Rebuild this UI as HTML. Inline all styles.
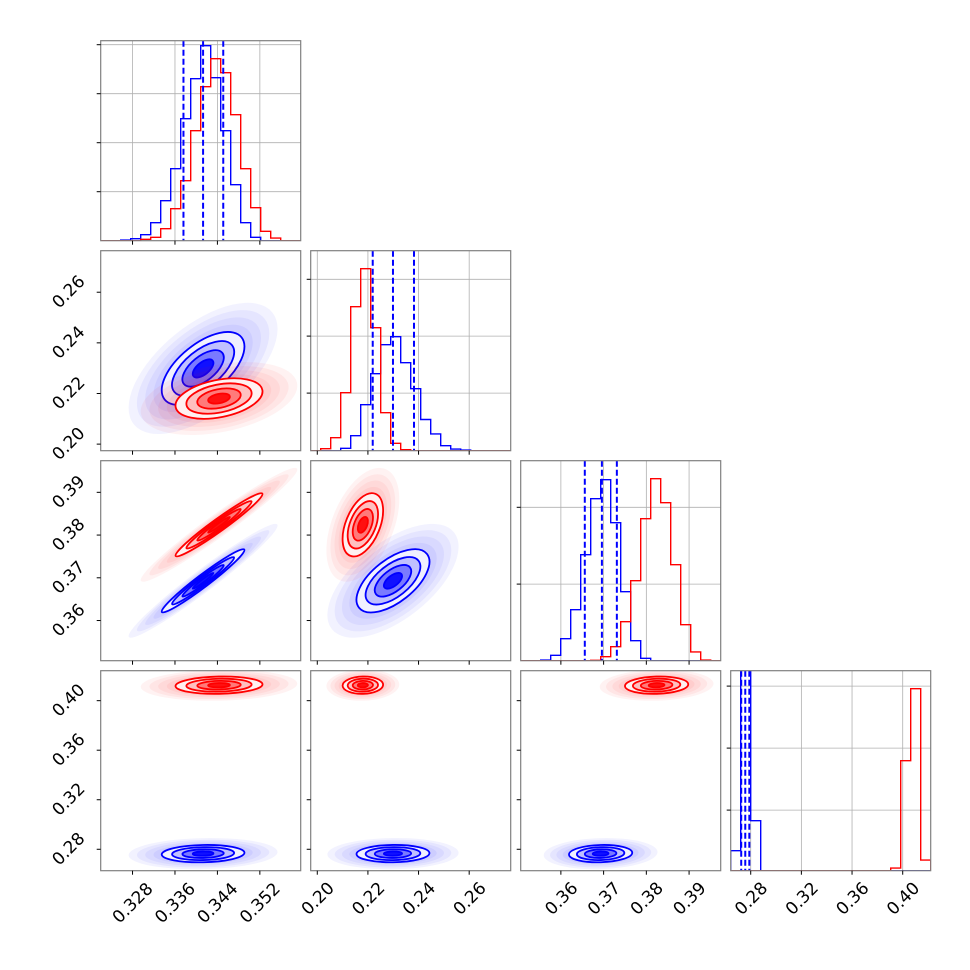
<!DOCTYPE html>
<html><head><meta charset="utf-8"><style>
html,body{margin:0;padding:0;background:#fff;}
svg{display:block;font-family:"DejaVu Sans","Liberation Sans",sans-serif;}
</style></head><body>
<svg id="chart" width="970" height="970" viewBox="0 0 970 970" xmlns="http://www.w3.org/2000/svg"></svg>
<script>
// ---- data ----
const paramRanges = [[0.3220,0.3597],[0.1974,0.2764],[0.3506,0.3974],[0.2642,0.4221]];
const p3YRange = [0.2627,0.4242];
const tickVals0 = [0.328,0.336,0.344,0.352];
const tickVals1 = [0.20,0.22,0.24,0.26];
const tickVals2 = [0.36,0.37,0.38,0.39];
const tickVals3 = [0.28,0.32,0.36,0.40];
const tickLabels0 = ["0.328","0.336","0.344","0.352"];
const tickLabels1 = ["0.20","0.22","0.24","0.26"];
const tickLabels2 = ["0.36","0.37","0.38","0.39"];
const tickLabels3 = ["0.28","0.32","0.36","0.40"];
// histogram heights (fraction of panel height), 20 bins per panel
const histBlue0 = [0,0,0.003,0.01,0.03,0.09,0.2,0.36,0.61,0.81,0.975,0.815,0.55,0.28,0.09,0.017,0,0,0,0];
const histRed0  = [0,0,0,0,0.007,0.017,0.06,0.16,0.3,0.55,0.77,0.91,0.84,0.63,0.36,0.165,0.047,0.013,0,0];
const histBlue1 = [0,0,0,0.012,0.075,0.23,0.385,0.53,0.57,0.44,0.31,0.156,0.084,0.025,0.008,0.003,0,0,0,0];
const histRed1  = [0,0.01,0.065,0.29,0.72,0.91,0.615,0.19,0.037,0.005,0,0,0,0,0,0,0,0,0,0];
const histBlue2 = [0,0,0.003,0.027,0.11,0.255,0.53,0.81,0.905,0.69,0.345,0.1,0.012,0,0,0,0,0,0,0];
const histRed2  = [0,0,0,0,0,0,0,0.002,0.02,0.07,0.195,0.4,0.71,0.91,0.79,0.48,0.18,0.044,0.003,0];
const histBlue3 = [0.1,1.6,0.25,0,0,0,0,0,0,0,0,0,0,0,0,0,0,0,0,0];
const histRed3  = [0,0,0,0,0,0,0,0,0,0,0,0,0,0,0,0,0.013,0.55,0.91,0.053];
const histTicks = [[0.245,0.49,0.735,0.98],[0.288,0.573,0.857],[0.383,0.767],[0.303,0.613,0.923]];
// blue-series quantile lines (16/50/84%)
const quant0 = [0.3376,0.3413,0.3451];
const quant1 = [0.2219,0.2299,0.2382];
const quant2 = [0.3656,0.3696,0.3731];
const quant3 = [0.2725,0.2757,0.2789];
// gaussian summaries of each series
const blueMeans = [0.3413,0.2299,0.3693,0.2765];
const blueSds   = [0.0039,0.0072,0.0037,0.0035];
const redMeans  = [0.3443,0.2180,0.3824,0.4125];
const redSds    = [0.0041,0.0040,0.0037,0.0035];
const blueCorr = [[1,0.6,0.97,0.1],[0.6,1,0.6,0.05],[0.97,0.6,1,0.1],[0.1,0.05,0.1,1]];
const redCorr  = [[1,0.35,0.97,0.1],[0.35,1,0.45,0.05],[0.97,0.45,1,0.1],[0.1,0.05,0.1,1]];

// ---- layout ----
const NS="http://www.w3.org/2000/svg";
const svg=document.getElementById('chart');
const P0X=100.7,P0Y=40.7,SZ=200,GAP=210;
const tickVals=[tickVals0,tickVals1,tickVals2,tickVals3];
const tickLabels=[tickLabels0,tickLabels1,tickLabels2,tickLabels3];
const hists=[[histBlue0,histRed0],[histBlue1,histRed1],[histBlue2,histRed2],[histBlue3,histRed3]];
const quants=[quant0,quant1,quant2,quant3];
function mk(tag,attrs,parent){const e=document.createElementNS(NS,tag);for(const k in attrs)e.setAttribute(k,attrs[k]);(parent||svg).appendChild(e);return e;}
function xScale(p,c,v){const r=paramRanges[p];return P0X+GAP*c+(v-r[0])/(r[1]-r[0])*SZ;}
function yScale(p,r,v){const rg=p===3?p3YRange:paramRanges[p];return P0Y+GAP*r+SZ-(v-rg[0])/(rg[1]-rg[0])*SZ;}

const defs=mk('defs',{});
for(let r=0;r<4;r++)for(let c=0;c<=r;c++){
  const cp=mk('clipPath',{id:'cp'+r+c},defs);
  mk('rect',{x:P0X+GAP*c,y:P0Y+GAP*r,width:SZ,height:SZ},cp);
}

function ellipse(g,cx,cy,sx,sy,rho,s,attrs){
  const a=sx*sx,b=-rho*sx*sy,d=sy*sy;
  const tr=(a+d)/2,det=Math.sqrt(((a-d)/2)**2+b*b);
  const l1=tr+det,l2=Math.max(tr-det,1e-6);
  const ang=Math.atan2(l1-a,b)*180/Math.PI;
  const angle=(Math.abs(b)<1e-9)?(a>=d?0:90):ang;
  return mk('ellipse',Object.assign({cx:cx,cy:cy,rx:s*Math.sqrt(l1),ry:s*Math.sqrt(l2),transform:`rotate(${angle} ${cx} ${cy})`},attrs),g);
}

const colors={blue:{c:'#0000ff',f:['#f0f0ff','#c0c0ff','#7a7aff','#1010ff']},red:{c:'#ff0000',f:['#fff0f0','#ffc0c0','#ff7a7a','#ff1010']}};

for(let r=0;r<4;r++){
  for(let c=0;c<=r;c++){
    const px=P0X+GAP*c,py=P0Y+GAP*r;
    const g=mk('g',{});
    
    
    const inner=mk('g',{'clip-path':`url(#cp${r}${c})`},g);
    if(r===c){
      tickVals[c].forEach(v=>{const x=xScale(c,c,v);mk('line',{x1:x,x2:x,y1:py,y2:py+SZ,stroke:'#b0b0b0','stroke-width':0.8},inner);});
      histTicks[r].forEach(f=>{const y=py+SZ-f*SZ;mk('line',{x1:px,x2:px+SZ,y1:y,y2:y,stroke:'#b0b0b0','stroke-width':0.8},inner);});
      ['blue','red'].forEach((sn,si)=>{
        const h=hists[c][si];const bw=SZ/h.length;
        let d=`M${px},${py+SZ}`;
        h.forEach((v,i)=>{const y=py+SZ-v*SZ;d+=` L${px+i*bw},${y} L${px+(i+1)*bw},${y}`;});
        d+=` L${px+SZ},${py+SZ}`;
        const p=mk('path',{d:d,fill:'none',stroke:colors[sn].c,'stroke-width':1.4},inner);
        
        
      });
      quants[c].forEach(v=>{const x=xScale(c,c,v);
        const l=mk('line',{x1:x,x2:x,y1:py,y2:py+SZ,stroke:'#0000ff','stroke-width':2,'stroke-dasharray':'6,3'},inner);
        
        });
    } else {
      [['blue',blueMeans,blueSds,blueCorr],['red',redMeans,redSds,redCorr]].forEach(([sn,m,s,cr])=>{
        const cx=xScale(c,c,m[c]),cy=yScale(r,r,m[r]);
        const sx=s[c]*SZ/(paramRanges[c][1]-paramRanges[c][0]);
        const yr=r===3?p3YRange:paramRanges[r];
        const sy=s[r]*SZ/(yr[1]-yr[0]);
        const rho=cr[c][r];
        [3.6,3.2,2.8,2.4].forEach(k=>{ellipse(inner,cx,cy,sx,sy,rho,k,{fill:colors[sn].c,'fill-opacity':0.05});});
        const lev=[2,1.5,1,0.5];
        lev.forEach((k,i)=>{ellipse(inner,cx,cy,sx,sy,rho,k,{fill:colors[sn].f[i]});});
        lev.forEach(k=>{const e=ellipse(inner,cx,cy,sx,sy,rho,k,{fill:'none',stroke:colors[sn].c,'stroke-width':1.8});
          
          });
      });
    }
    mk('rect',{x:px,y:py,width:SZ,height:SZ,fill:'none',stroke:'#808080','stroke-width':1.2},g);
    tickVals[c].forEach((v,i)=>{const x=xScale(c,c,v);mk('line',{x1:x,x2:x,y1:py+SZ,y2:py+SZ+4,stroke:'#000','stroke-width':1},g);
      if(r===3){const L=tickLabels[c][i].length*9.8;
        const ex=x+0.707*L/2+4, ey=(tickLabels[c][i].length>4?903:899)-0.707*L/2+4;
        const t=mk('text',{x:ex,y:ey,'text-anchor':'end','font-size':17,fill:'#000',transform:`rotate(-45 ${ex} ${ey})`},g);
        t.textContent=tickLabels[c][i];
        
        }
    });
    if(r===c){histTicks[r].forEach(f=>{const y=py+SZ-f*SZ;mk('line',{x1:px-4,x2:px,y1:y,y2:y,stroke:'#000','stroke-width':1},g);});}
    else{tickVals[r].forEach((v,i)=>{const y=yScale(r,r,v);mk('line',{x1:px-4,x2:px,y1:y,y2:y,stroke:'#000','stroke-width':1},g);
      if(c===0){const L=tickLabels[r][i].length*9.8;
        const ex=68+0.707*L/2+4, ey=y-0.707*L/2+4;
        const t=mk('text',{x:ex,y:ey,'text-anchor':'end','font-size':17,fill:'#000',transform:`rotate(-45 ${ex} ${ey})`},g);
        t.textContent=tickLabels[r][i];
        
        }
    });}
  }
}
</script>
</body></html>
